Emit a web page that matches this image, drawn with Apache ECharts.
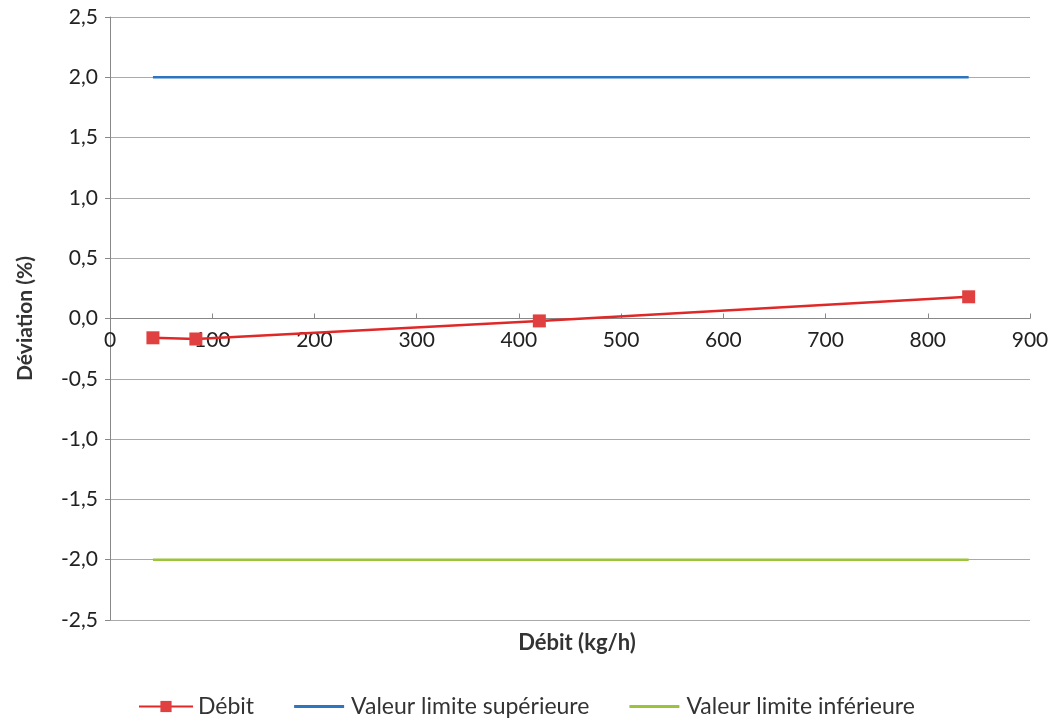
<!DOCTYPE html>
<html><head><meta charset="utf-8">
<script src="https://cdn.jsdelivr.net/npm/echarts@6/dist/echarts.min.js"></script>
<style>html,body{margin:0;padding:0;background:#fff}#c{width:1059px;height:725px}</style>
</head><body><div id="c"></div>
<script>
const debitX = [42, 84, 420, 840];
const debitY = [-0.16, -0.17, -0.02, 0.18];
const limitX = [42, 840];
const upperY = [2.0, 2.0];
const lowerY = [-2.0, -2.0];
const seriesNames = ['Débit', 'Valeur limite supérieure', 'Valeur limite inférieure'];
const pair = (xs, ys) => xs.map((x, i) => [x, ys[i]]);
const font = 'Lato, "Open Sans", sans-serif';
const lineIcon = 'path://M0,0L0,0M0,5.5h50v3h-50zM50,14L50,14';
const chart = echarts.init(document.getElementById('c'));
chart.setOption({
  animation: false,
  grid: {left: 110, right: 29, top: 17, bottom: 105},
  title: {text: 'Débit (kg/h)', left: 572, top: 627, textAlign: 'center',
    textStyle: {fontFamily: font, fontSize: 22, fontWeight: 'bold', color: '#333'}},
  legend: {bottom: 2, left: 133, itemGap: 40, itemWidth: 54, itemHeight: 14,
    textStyle: {fontFamily: font, fontSize: 23, color: '#333'},
    data: [
      {name: seriesNames[0]},
      {name: seriesNames[1], icon: lineIcon},
      {name: seriesNames[2], icon: lineIcon}
    ]},
  xAxis: {type: 'value', min: 0, max: 900, interval: 100, position: 'bottom', offset: -301.5,
    axisLine: {onZero: false, lineStyle: {color: '#888'}},
    axisTick: {show: true, inside: true, length: 5, lineStyle: {color: '#888'}},
    axisLabel: {fontFamily: font, fontSize: 21, color: '#222', margin: 11},
    splitLine: {show: false}},
  yAxis: {type: 'value', min: -2.5, max: 2.5, interval: 0.5,
    name: 'Déviation (%)', nameLocation: 'middle', nameGap: 74, nameRotate: 90,
    nameTextStyle: {fontFamily: font, fontSize: 21, fontWeight: 'bold', color: '#333'},
    axisLine: {show: true, lineStyle: {color: '#888'}},
    axisTick: {show: true, length: 5, lineStyle: {color: '#888'}},
    axisLabel: {fontFamily: font, fontSize: 21, color: '#222', margin: 12,
      formatter: v => v.toFixed(1).replace('.', ',')},
    splitLine: {lineStyle: {color: '#aaa'}}},
  series: [
    {name: seriesNames[0], type: 'line', data: pair(debitX, debitY),
      symbol: 'rect', symbolSize: 13, color: '#e03c3c',
      lineStyle: {width: 2.5, color: '#e02828'}, itemStyle: {color: '#e04040'}},
    {name: seriesNames[1], type: 'line', data: pair(limitX, upperY), symbol: 'none',
      color: '#2e75c0', lineStyle: {width: 2.5, color: '#2e75c0'}},
    {name: seriesNames[2], type: 'line', data: pair(limitX, lowerY), symbol: 'none',
      color: '#9bc43c', lineStyle: {width: 2.5, color: '#9bc43c'}}
  ]
});
</script></body></html>
